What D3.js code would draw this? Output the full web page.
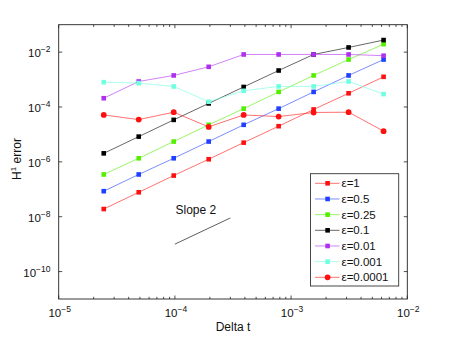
<!DOCTYPE html>
<html><head><meta charset="utf-8">
<script src="https://cdn.jsdelivr.net/npm/d3@7"></script>
<style>body{margin:0;background:#fff}svg{display:block;font-family:"Liberation Sans",Arial,Helvetica,sans-serif}</style>
</head><body><svg id="c" width="450" height="337"></svg>
<script>
const dt = [2.4414e-5, 4.8828e-5, 9.7656e-5, 1.9531e-4, 3.9063e-4, 7.8125e-4, 1.5625e-3, 3.125e-3, 6.25e-3];
const labels = ["ε=1","ε=0.5","ε=0.25","ε=0.1","ε=0.01","ε=0.001","ε=0.0001"];
const colors = ["#ff1010","#2040ff","#55ee00","#000000","#b030f0","#70ffe0","#ff1010"];
const markers = ["square","square","square","square","square","square","circle"];
// log10 of error values
const e1     = [-7.72,-7.11,-6.50,-5.905,-5.30,-4.70,-4.09,-3.50,-2.90];
const e05    = [-7.07,-6.46,-5.87,-5.26,-4.65,-4.06,-3.45,-2.85,-2.27];
const e025   = [-6.46,-5.87,-5.26,-4.65,-4.06,-3.45,-2.85,-2.27,-1.71];
const e01    = [-5.69,-5.08,-4.47,-3.87,-3.27,-2.67,-2.085,-1.83,-1.56];
const e001   = [-3.68,-3.07,-2.85,-2.535,-2.085,-2.085,-2.085,-2.085,-2.13];
const e0001  = [-3.095,-3.13,-3.25,-3.81,-3.41,-3.25,-3.25,-3.07,-3.53];
const e00001 = [-4.29,-4.46,-4.19,-4.725,-4.29,-4.35,-4.20,-4.19,-4.88];
const seriesLog = [e1,e05,e025,e01,e001,e0001,e00001];
const slopeX = [1e-4, 3e-4];
const slopeY = [1e-9, 9e-9];
const xTicks = [1e-5,1e-4,1e-3,1e-2];
const yTicks = [1e-10,1e-8,1e-6,1e-4,1e-2];

const L=58.7,R=407.3,T=24.7,B=299;
const svg=d3.select("#c");
const x=d3.scaleLog().domain([1e-5,1e-2]).range([L,R]);
const y=d3.scaleLog().domain([1e-11,1e-1]).range([B,T]);

// frame
svg.append("rect").attr("x",L).attr("y",T).attr("width",R-L).attr("height",B-T)
  .attr("fill","none").attr("stroke","#222").attr("stroke-width",0.9);

// x ticks (major + minor) on bottom and top, inward
const xMinor=[];
for(let d=-5;d<-2;d++) for(let m=2;m<=9;m++) xMinor.push(m*Math.pow(10,d));
const tg=svg.append("g").attr("stroke","#222").attr("stroke-width",0.8);
xMinor.forEach(v=>{
  tg.append("line").attr("x1",x(v)).attr("x2",x(v)).attr("y1",B).attr("y2",B-2.2);
  tg.append("line").attr("x1",x(v)).attr("x2",x(v)).attr("y1",T).attr("y2",T+2.2);
});
xTicks.forEach(v=>{
  tg.append("line").attr("x1",x(v)).attr("x2",x(v)).attr("y1",B).attr("y2",B-3.5);
  tg.append("line").attr("x1",x(v)).attr("x2",x(v)).attr("y1",T).attr("y2",T+3.5);
});
yTicks.forEach(v=>{
  tg.append("line").attr("x1",L).attr("x2",L+3.5).attr("y1",y(v)).attr("y2",y(v));
  tg.append("line").attr("x1",R).attr("x2",R-3.5).attr("y1",y(v)).attr("y2",y(v));
});

function expLabel(g, v){
  const e=Math.round(Math.log10(v));
  g.append("tspan").text("10");
  g.append("tspan").attr("dy",-5).attr("font-size",8.5).text("−"+Math.abs(e).toString());
}
xTicks.forEach(v=>{
  const t=svg.append("text").attr("x",x(v)+1).attr("y",316.5).attr("text-anchor","middle")
    .attr("font-size",11.5).attr("fill","#111");
  expLabel(t,v);
});
yTicks.forEach(v=>{
  const t=svg.append("text").attr("x",50.5).attr("y",y(v)+5.2).attr("text-anchor","end")
    .attr("font-size",11.5).attr("fill","#111");
  expLabel(t,v);
});

svg.append("text").attr("x",233).attr("y",331).attr("text-anchor","middle")
  .attr("font-size",12).attr("fill","#111").text("Delta t");
const yl=svg.append("text").attr("transform","translate(20.5,159) rotate(-90)")
  .attr("text-anchor","middle").attr("font-size",12).attr("fill","#111");
yl.append("tspan").text("H");
yl.append("tspan").attr("dy",-5).attr("font-size",8).text("1");
yl.append("tspan").attr("dy",5).text(" error");

// series
const line=d3.line().x(d=>x(d[0])).y(d=>y(d[1]));
seriesLog.forEach((s,i)=>{
  const pts=dt.map((t,j)=>[t,Math.pow(10,s[j])]);
  const g=svg.append("g");
  g.append("path").attr("d",line(pts)).attr("fill","none").attr("stroke",colors[i])
    .attr("stroke-width",0.8).attr("stroke-opacity",0.75);
  pts.forEach(p=>{
    if(markers[i]==="square")
      g.append("rect").attr("x",x(p[0])-2.3).attr("y",y(p[1])-2.3).attr("width",4.6).attr("height",4.6)
        .attr("fill",colors[i]);
    else
      g.append("circle").attr("cx",x(p[0])).attr("cy",y(p[1])).attr("r",2.9).attr("fill",colors[i]);
  });
});

// slope line
svg.append("line").attr("x1",x(slopeX[0])).attr("y1",y(slopeY[0])).attr("x2",x(slopeX[1])).attr("y2",y(slopeY[1]))
  .attr("stroke","#333").attr("stroke-width",0.8);
svg.append("text").attr("x",175.5).attr("y",213.5).attr("font-size",12).attr("fill","#111").text("Slope 2");

// legend
const lg=svg.append("g");
lg.append("rect").attr("x",310.5).attr("y",173.7).attr("width",88.2).attr("height",112.3)
  .attr("fill","#fff").attr("stroke","#333").attr("stroke-width",0.9);
labels.forEach((lab,i)=>{
  const yy=183.3+i*15.67;
  lg.append("line").attr("x1",315).attr("x2",339.5).attr("y1",yy).attr("y2",yy)
    .attr("stroke",colors[i]).attr("stroke-width",0.8).attr("stroke-opacity",0.75);
  if(markers[i]==="square")
    lg.append("rect").attr("x",327.6-2.3).attr("y",yy-2.3).attr("width",4.6).attr("height",4.6).attr("fill",colors[i]);
  else
    lg.append("circle").attr("cx",327.6).attr("cy",yy).attr("r",2.9).attr("fill",colors[i]);
  lg.append("text").attr("x",341.5).attr("y",yy+4).attr("font-size",11.5).attr("fill","#111").text(lab);
});
</script></body></html>
